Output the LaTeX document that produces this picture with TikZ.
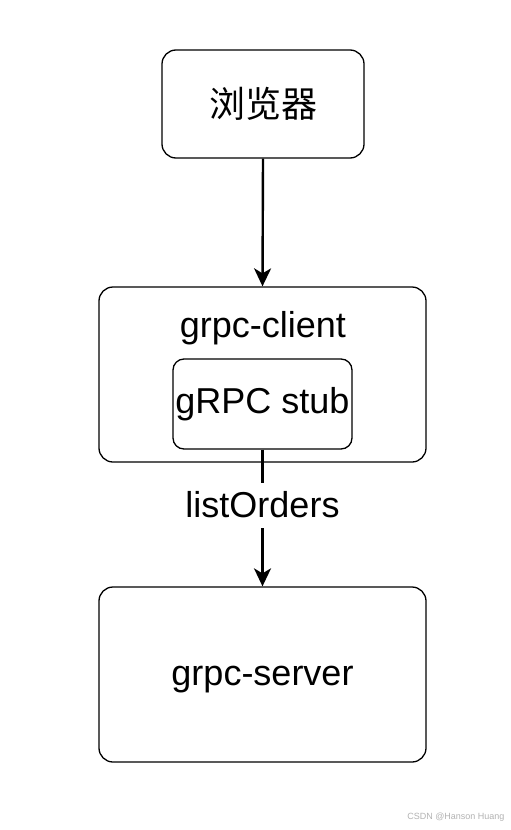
\documentclass[tikz,border=0pt]{standalone}
\usepackage{fontspec}
\setmainfont{Liberation Sans}
\newfontfamily\cjk{Noto Sans CJK SC}
\usetikzlibrary{arrows.meta}

\tikzset{
  box/.style={draw, line width=1.3pt, rounded corners=14pt, inner sep=0pt},
  flow/.style={line width=2.4pt, -{Stealth[length=18pt,width=17pt,inset=5pt]}},
  txt/.style={font=\fontsize{36}{40}\selectfont}
}

\begin{document}
\begin{tikzpicture}[x=1pt, y=-1pt]
    \useasboundingbox (0,0) rectangle (511,830);
    % Boxes
        \node[box, minimum width=202pt, minimum height=108pt, font=\fontsize{36}{40}\selectfont] (browser) at (263,104) {\cjk 浏览器};
        \node[box, minimum width=327pt, minimum height=175pt] (client) at (262.5,374.5) {};
        \node[txt, anchor=base] (clienttxt) at (263,337) {grpc-client};
        \node[box, rounded corners=11pt, minimum width=179pt, minimum height=90pt, txt, text height=25pt, text depth=7pt] (stub) at (262.5,404) {gRPC stub};
        \node[box, minimum width=327pt, minimum height=175pt, txt, text height=25pt, text depth=4pt] (server) at (262.5,674.5) {grpc-server};
    % Connectors
        \draw[flow] (browser.south) -- (client.north);
        \draw[flow] (stub.south) -- node[pos=0.41, fill=white, inner sep=2pt, txt, text height=32pt, text depth=9pt] (call) {listOrders} (server.north);
    % Watermark
        \node[text=black!30, font=\fontsize{9}{10}\selectfont, anchor=east] (mark) at (508,817) {CSDN @Hanson Huang};
\end{tikzpicture}
\end{document}
